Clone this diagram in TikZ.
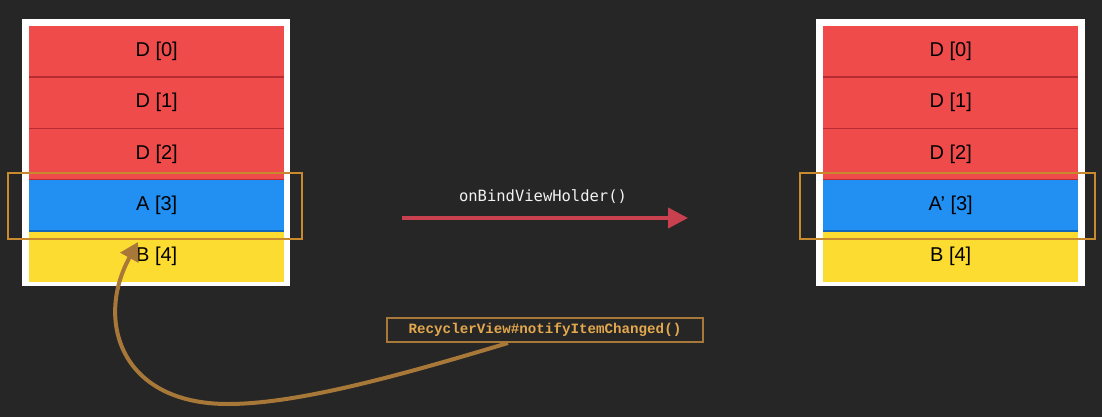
\documentclass[tikz,border=0pt]{standalone}
\usepackage{fontspec}
\setmainfont{Liberation Sans}
\newfontfamily\codefont{DejaVu Sans Mono}
\newfontfamily\callfont{Liberation Mono}
\usepackage{tikz}
\usetikzlibrary{positioning,arrows.meta}
\definecolor{bg}{HTML}{262626}
\definecolor{rowred}{HTML}{EF4B4B}
\definecolor{redline}{HTML}{B92B33}
\definecolor{rowblue}{HTML}{2190F2}
\definecolor{blueline}{HTML}{1466B8}
\definecolor{rowyellow}{HTML}{FDDC31}
\definecolor{mark}{HTML}{C98A2E}
\definecolor{bindred}{HTML}{C9404E}
\definecolor{callbrown}{HTML}{A87838}
\definecolor{calltext}{HTML}{E3A84E}
\tikzset{
  row/.style={minimum width=255pt,minimum height=50.8pt,inner sep=0pt,font=\fontsize{20}{24}\selectfont},
  dline/.style={line width=1.6pt},
  markbox/.style={draw=mark,line width=2pt},
}
\begin{document}
\begin{tikzpicture}[x=1pt,y=-1pt]
\fill[bg] (0,0) rectangle (1102,417);
\useasboundingbox (0,0) rectangle (1102,417);
% left list
\fill[white] (22,19) rectangle (290,286);
\node[row,fill=rowred,anchor=north west] (l0) at (29,26) {D [0]};
\node[row,fill=rowred,below=0pt of l0] (l1) {D [1]};
\node[row,fill=rowred,below=0pt of l1] (l2) {D [2]};
\node[row,fill=rowblue,below=0pt of l2] (l3) {A [3]};
\node[row,fill=rowyellow,below=0pt of l3] (l4) {B [4]};
\draw[dline,redline] (l0.south west) -- (l0.south east);
\draw[dline,redline] (l1.south west) -- (l1.south east);
\draw[dline,redline] (l2.south west) -- (l2.south east);
\draw[dline,blueline] (l3.south west) -- (l3.south east);
\draw[markbox] (8,173) rectangle (302,239);
% right list
\fill[white] (816,19) rectangle (1085,286);
\node[row,fill=rowred,anchor=north west] (r0) at (823,26) {D [0]};
\node[row,fill=rowred,below=0pt of r0] (r1) {D [1]};
\node[row,fill=rowred,below=0pt of r1] (r2) {D [2]};
\node[row,fill=rowblue,below=0pt of r2] (r3) {A’ [3]};
\node[row,fill=rowyellow,below=0pt of r3] (r4) {B [4]};
\draw[dline,redline] (r0.south west) -- (r0.south east);
\draw[dline,redline] (r1.south west) -- (r1.south east);
\draw[dline,redline] (r2.south west) -- (r2.south east);
\draw[dline,blueline] (r3.south west) -- (r3.south east);
\draw[markbox] (800,173) rectangle (1095,239);
% bind arrow
\coordinate (bindstart) at (402,218);
\coordinate (bindend) at (688,218);
\draw[bindred,line width=4pt,-{Triangle[length=20pt,width=20pt]}] (bindstart) -- (bindend);
\node[text=white!90!gray,font=\codefont\fontsize{15.5}{18}\selectfont] (bind) at (543,197) {onBindViewHolder()};
% notify call
\node[draw=callbrown,line width=1.2pt,minimum width=316pt,minimum height=24pt,inner sep=0pt,
  text=calltext,font=\callfont\bfseries\fontsize{14.2}{16}\selectfont] (call) at (545,330) {RecyclerView\#notifyItemChanged()};
\coordinate (callfoot) at (508,343);
\coordinate (hook) at (138,242);
\draw[callbrown,line width=4pt,-{Triangle[length=18pt,width=20pt]}]
  (callfoot) .. controls (408,373) and (300,404) .. (228,404)
  .. controls (120,404) and (95,320) .. (hook);
\end{tikzpicture}
\end{document}
